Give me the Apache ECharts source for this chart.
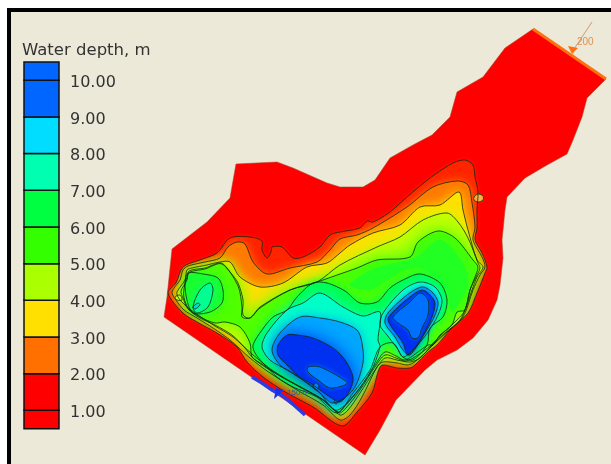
<!DOCTYPE html>
<html><head><meta charset="utf-8">
<style>html,body{margin:0;padding:0;background:#fff}#c{width:611px;height:464px}</style>
<script src="https://cdn.jsdelivr.net/npm/echarts@6/dist/echarts.min.js"></script></head>
<body><div id="c"></div>
<script>
const legendEdges=[0.5,1,2,3,4,5,6,7,8,9,10,10.5];
const legendColors=['#FF0000','#FF0000','#FF7000','#FFE000','#AAFF00','#33FF00','#00FF40','#00FFB0','#00DDFF','#0066FF','#0066FF'];
const legendTicks=[1,2,3,4,5,6,7,8,9,10];
const domain=[[533,29],[606,79],[587,98],[582,117],[573,140],[567,154],[547,165],[525,178],[507,197],[505,210],[502,240],[503,258],[500,285],[497,300],[488,320],[473,338],[457,350],[437,360],[425,370],[396,400],[380,430],[365,455],[164,317],[167,297],[172,249],[207,222],[230,198],[236,164],[277,162],[293,168],[327,183],[340,187],[363,187],[375,180],[390,158],[413,145],[432,135],[450,117],[457,92],[483,77],[505,48]];
const depth1=[[168,293],[176,283],[183,267],[200,260],[217,253],[230,238],[250,237],[262,241],[262,250],[267,258],[271,252],[272,247],[282,247],[293,258],[303,257],[320,247],[330,235],[340,232],[360,228],[367,221],[373,222],[390,212],[407,197],[430,178],[453,163],[465,160],[473,165],[475,177],[478,192],[477,210],[477,228],[475,240],[482,253],[487,267],[485,273],[477,293],[468,313],[450,330],[437,345],[428,352],[415,365],[410,368],[397,368],[382,365],[378,372],[372,393],[357,412],[342,426],[313,407],[287,393],[263,377],[247,362],[237,347],[217,333],[197,322],[183,313]];
const depth2=[[172,292],[180,280],[183,270],[188,266],[205,262],[220,258],[228,247],[237,242],[245,244],[253,262],[267,274],[290,268],[317,262],[330,250],[340,239],[357,235],[373,228],[407,207],[433,187],[457,181],[468,185],[472,203],[475,227],[473,240],[482,257],[485,267],[480,275],[473,290],[463,317],[447,332],[435,343],[425,353],[413,363],[407,365],[397,363],[383,362],[377,367],[362,397],[350,415],[340,420],[323,405],[297,390],[270,373],[250,358],[230,340],[213,328],[197,318],[184,310],[176,300]];
const depth3=[[177,292],[185,280],[187,270],[192,268],[207,265],[220,262],[230,262],[240,277],[260,287],[283,283],[307,267],[327,263],[340,253],[350,245],[373,233],[400,225],[420,207],[440,205],[459,192],[463,210],[468,230],[477,260],[483,267],[477,277],[472,290],[466,307],[460,320],[445,333],[432,345],[420,358],[410,362],[397,360],[385,358],[375,370],[360,393],[348,410],[340,415],[325,401],[300,387],[272,370],[252,354],[233,337],[215,326],[198,315],[186,306],[178,297]];
const depth4=[[181,291],[187,280],[189,271],[205,268],[221,263],[230,272],[238,283],[243,300],[243,315],[250,318],[260,307],[290,290],[317,282],[340,265],[377,247],[400,237],[423,220],[447,213],[458,222],[468,238],[478,263],[480,268],[476,277],[470,290],[465,310],[457,320],[442,334],[430,346],[418,355],[406,361],[396,358],[385,355],[375,367],[360,390],[346,408],[339,413],[322,399],[299,386],[280,376],[262,365],[252,357],[245,348],[232,335],[215,325],[200,318],[188,309],[183,298]];
const depth5=[[184,289],[187,277],[190,272],[205,269],[222,264],[238,286],[242,307],[242,317],[250,318],[260,308],[290,290],[317,282],[340,274],[357,268],[377,260],[410,257],[418,242],[438,231],[455,238],[473,260],[478,267],[475,277],[470,290],[465,310],[457,312],[452,325],[440,335],[433,345],[428,345],[418,352],[405,360],[396,356],[385,352],[375,365],[360,388],[345,406],[338,412],[320,398],[298,386],[280,376],[262,364],[252,357],[250,343],[240,327],[225,322],[215,323],[200,317],[189,309],[184,298]];
const depth5core=[[415,258],[440,240],[462,262],[468,285],[452,312],[447,290],[420,268],[395,275],[370,290],[350,285],[375,268]];
const depth6=[[262,330],[273,317],[287,310],[297,297],[313,283],[327,283],[345,291],[360,303],[377,302],[390,288],[403,280],[420,274],[440,283],[447,300],[443,317],[430,328],[427,345],[413,360],[403,357],[393,343],[380,347],[370,370],[353,393],[337,413],[317,397],[293,387],[277,377],[263,363],[255,353],[253,345]];
const depth7=[[287,310],[303,303],[320,293],[343,307],[363,316],[380,312],[378,340],[380,347],[370,373],[347,403],[335,410],[317,390],[287,370],[270,360],[262,347],[267,333]];
const depth8=[[300,317],[320,318],[340,322],[357,330],[362,343],[363,363],[353,390],[333,403],[320,393],[293,373],[280,365],[272,350],[280,333]];
const depth9=[[287,335],[297,335],[313,338],[333,348],[345,360],[353,377],[350,390],[340,402],[330,397],[313,385],[297,375],[287,365],[278,355],[278,345]];
const depth10=[[308,367],[320,367],[347,382],[345,385],[330,388],[318,380],[308,372]];
const holeA=[[313,386],[316,383],[319,386],[316,390]];
const holeB=[[334,402],[336,400],[338,402],[336,404]];
const westLobe5=[[188,273],[203,274],[218,278],[223,290],[222,303],[210,312],[193,313],[187,300],[185,283]];
const westLobe6=[[193,307],[200,290],[210,283],[213,290],[208,307],[197,313]];
const westLobe7=[[193,307],[198,303],[200,305],[195,309]];
const tipPool=[[175,297],[180,295],[182,300],[177,300]];
const eastPool7=[[380,325],[383,313],[403,290],[420,282],[435,287],[442,300],[438,315],[428,332],[413,350],[403,357],[397,348],[387,335]];
const eastPool8=[[385,323],[388,313],[407,295],[422,287],[432,292],[438,302],[435,315],[425,333],[410,355],[403,350],[395,337]];
const eastPool9=[[388,320],[395,310],[410,297],[422,290],[430,295],[435,303],[432,317],[422,337],[408,355],[403,343]];
const eastPool10=[[393,317],[410,302],[420,293],[428,300],[428,315],[422,328],[418,338],[412,338],[408,330],[398,323]];
const islet=[[474,197],[478,194],[483,196],[483,200],[478,202],[474,200]];
const inletBoundary=[[533,29],[606,79]];
const inletShaft=[[592,22],[572,52]];
const inletHead=[[572,54],[568,46],[578,48]];
const outletBoundary=[[252,377],[262,383],[272,390],[283,396],[295,406],[305,415]];
const outletHead=[[274,399],[276,388],[284,390]];
const inletLabel='200', outletLabel='150.0';

const layers=[
 [domain,'#FF0000',0,false,null],
 [depth1,'#FF2400',4,true,domain],[islet,'#FFB040',1,true,null],
 [depth2,'#FF7A00',10,true,depth1],[depth3,'#FFE000',12,true,depth1],[depth4,'#C4FF00',14,true,depth1],[depth5,'#50FF00',16,true,depth1],
 [depth5core,'#22FF22',24,false,depth1],
 [westLobe5,'#18FF30',12,true,depth1],[westLobe6,'#00FF90',8,true,depth1],[westLobe7,'#00DDCC',1,true,null],[tipPool,'#C0FF20',1,true,null],
 [depth6,'#00FF50',10,true,depth1],[depth7,'#00FFC8',12,true,depth1],[depth8,'#00A8FF',12,true,depth1],[depth9,'#0030F0',18,true,depth1],[depth10,'#0080FF',5,true,depth1],[holeA,'#0080FF',1,true,null],[holeB,'#0080FF',1,true,null],
 [eastPool7,'#00FFC8',6,true,depth1],[eastPool8,'#00B8FF',5,true,depth1],[eastPool9,'#0030F0',6,true,depth1],[eastPool10,'#0070FF',5,true,depth1]
];
const smoothing=0.3;
function polySeries(pts,fill,blur,z,smooth,clipTo){
 return {type:'custom',xAxisIndex:0,yAxisIndex:0,z:z,silent:true,animation:false,clip:false,data:pts,encode:{x:0,y:1},
  renderItem(p,api){ if(p.dataIndex!==0) return null;
   const el={type:'polygon',shape:{points:pts.map(q=>api.coord(q)),smooth:smooth||0},style:{fill:fill,shadowBlur:blur,shadowColor:fill}};
   if(clipTo) el.clipPath={type:'polygon',shape:{points:clipTo.map(q=>api.coord(q)),smooth:clipTo===domain?0:smoothing}};
   return el;}};
}
function lineSeries(pts,color,width,z,closed,smooth){
 return {type:'custom',xAxisIndex:0,yAxisIndex:0,z:z,silent:true,animation:false,clip:false,data:pts,encode:{x:0,y:1},
  renderItem(p,api){ if(p.dataIndex!==0) return null;
   return {type:closed?'polygon':'polyline',shape:{points:pts.map(q=>api.coord(q)),smooth:smooth||0},style:{fill:'none',stroke:color,lineWidth:width}};}};
}
function textSeries(pos,text,color,size,z){
 return {type:'custom',xAxisIndex:0,yAxisIndex:0,z:z,silent:true,animation:false,clip:false,data:[pos],encode:{x:0,y:1},
  renderItem(p,api){const c=api.coord(pos);return {type:'text',x:c[0],y:c[1],style:{text:text,fill:color,font:size+'px "Liberation Sans"',textVerticalAlign:'middle'}};}};
}
const series=[];
layers.forEach((l,i)=>series.push(polySeries(l[0],l[1],l[2],2+i,l[0]===domain?0:smoothing,l[4])));
layers.forEach((l,i)=>{if(l[3]) series.push(lineSeries(l[0],'rgba(15,40,15,0.8)',1,40,true,smoothing));});
series.push(lineSeries(domain,'rgba(170,70,40,0.55)',1,41,true,0));
series.push(lineSeries(inletBoundary,'#FF7010',3,50,false));
series.push(lineSeries(inletShaft,'#D89868',1,50,false));
series.push(polySeries(inletHead,'#FF7010',0,50));
series.push(textSeries([577,42],inletLabel,'#E09050',10,50));
series.push(lineSeries(outletBoundary,'#2A3CE8',3.5,50,false));
series.push(polySeries(outletHead,'#1A30E8',0,50));
series.push(textSeries([287,393],outletLabel,'#30509A',8,50));
series.push({type:'custom',xAxisIndex:1,yAxisIndex:1,z:10,silent:true,animation:false,
 data:legendColors.map((c,i)=>[legendEdges[i],legendEdges[i+1]]),encode:{y:[0,1]},
 renderItem(p,api){const a=api.coord([0,api.value(0)]),b=api.coord([1,api.value(1)]);
  return {type:'rect',shape:{x:a[0],y:b[1],width:b[0]-a[0],height:a[1]-b[1]},style:{fill:legendColors[p.dataIndex],stroke:'#111',lineWidth:1.5}};}});

const chart=echarts.init(document.getElementById('c'),null,{renderer:'canvas'});
chart.setOption({
 animation:false,backgroundColor:'#fff',
 title:{text:'Water depth, m',left:17,top:37,textStyle:{fontFamily:'DejaVu Sans',fontSize:16.5,fontWeight:'normal',color:'#333'}},
 graphic:[{type:'rect',z:-10,silent:true,shape:{x:9,y:10,width:800,height:700},style:{fill:'#ECE9D8',stroke:'#000',lineWidth:4}}],
 grid:[{left:0,top:0,width:611,height:464,containLabel:false},{left:24,top:43.6,width:35,height:403.4}],
 xAxis:[{type:'value',min:0,max:611,show:false},{type:'value',gridIndex:1,min:0,max:1,show:false}],
 yAxis:[{type:'value',min:0,max:464,inverse:true,show:false},
  {type:'value',gridIndex:1,position:'right',min:0,max:11,interval:1,splitLine:{show:false},axisLine:{show:false},axisTick:{show:false},
   axisLabel:{margin:11,fontFamily:'DejaVu Sans',fontSize:16,color:'#333',showMinLabel:false,showMaxLabel:false,
    rich:{v:{fontFamily:'DejaVu Sans',fontSize:16,color:'#333',padding:[5,0,0,0]}},
    formatter:v=>legendTicks.includes(v)?'{v|'+v.toFixed(2)+'}':''}}],
 series:series
});
</script></body></html>
